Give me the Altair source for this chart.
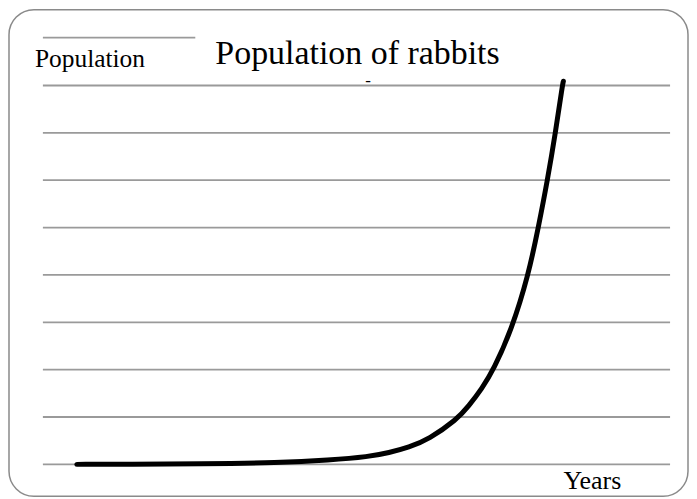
import altair as alt
import pandas as pd

# ---- data ----
grid_y = [0, 1, 2, 3, 4, 5, 6, 7, 8]          # horizontal guide lines
grid_x0 = [0] * 9
grid_x1 = [100] * 9
# short line above the "Population" label
extra_rule_x0 = [0]
extra_rule_x1 = [24.3]
extra_rule_y = [9.01]

curve_x = [5.41, 13.83, 24.96, 37.68, 45.63, 51.99, 55.17, 58.35, 61.53,
           66.03, 67.89, 70.0, 71.86, 74.72, 77.42, 79.01, 80.45, 81.72, 82.83, 82.99]
curve_y = [0.0, 0.003, 0.012, 0.035, 0.09, 0.162, 0.246, 0.36, 0.53,
           0.95, 1.23, 1.60, 2.0, 2.84, 4.0, 5.01, 6.0, 7.0, 8.0, 8.09]

label_text = ["Population of rabbits", "Population", "Years", "-"]
label_x = [27.5, -1.27, 83.0, 51.4]
label_y = [8.46, 8.39, -0.526, 7.99]
label_size = [34, 25.5, 26, 17]

grid_df = pd.DataFrame({
    "x0": grid_x0 + extra_rule_x0,
    "x1": grid_x1 + extra_rule_x1,
    "y": grid_y + extra_rule_y,
})
curve_df = pd.DataFrame({"x": curve_x, "y": curve_y})
label_df = pd.DataFrame({"text": label_text, "x": label_x, "y": label_y, "size": label_size})

xs = alt.Scale(domain=[-5.405, 102.86], nice=False, zero=False)
ys = alt.Scale(domain=[-0.6737, 9.6], nice=False, zero=False)

rules = alt.Chart(grid_df).mark_rule(color="#9a9a9a", strokeWidth=1.8).encode(
    x=alt.X("x0:Q", scale=xs, axis=None),
    x2="x1:Q",
    y=alt.Y("y:Q", scale=ys, axis=None),
)

curve = alt.Chart(curve_df).mark_line(
    color="black", strokeWidth=5, strokeCap="round", strokeJoin="round",
    interpolate="basis", clip=False,
).encode(
    x=alt.X("x:Q", scale=xs, axis=None),
    y=alt.Y("y:Q", scale=ys, axis=None),
    order=alt.Order("x:Q"),
)

labels = alt.Chart(label_df).mark_text(
    align="left", baseline="alphabetic", font="Liberation Serif", color="black",
).encode(
    x=alt.X("x:Q", scale=xs, axis=None),
    y=alt.Y("y:Q", scale=ys, axis=None),
    text="text:N",
    size=alt.Size("size:Q", scale=None, legend=None),
)

chart = alt.layer(rules, curve, labels).properties(
    width=681,
    height=488,
    padding={"left": 1, "top": 1, "right": 1, "bottom": 1},
    autosize=alt.AutoSizeParams(type="none"),
    background="white",
).configure_view(
    stroke="#8a8a8a",
    strokeWidth=1.5,
    cornerRadius=25,
)

chart.save("out.html", embed_options={"renderer": "svg", "actions": False})
